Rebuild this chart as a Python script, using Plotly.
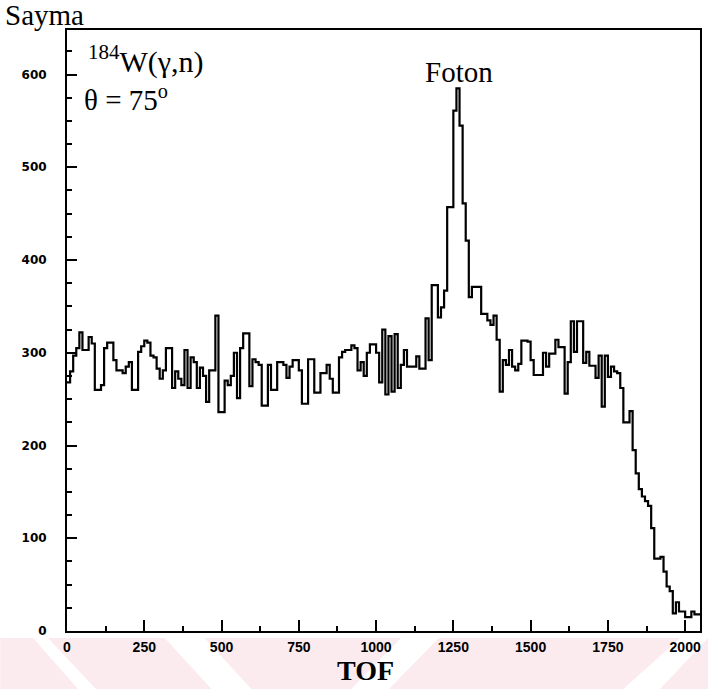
import numpy as np
import plotly.graph_objects as go

# ---- data (counts per 10-unit TOF bin) ----
bin_width = 10
counts = [
    268, 280, 297, 305, 322, 303, 303, 317, 310, 260,
    260, 265, 305, 311, 311, 292, 281, 281, 278, 285,
    290, 260, 260, 301, 307, 313, 311, 297, 295, 283,
    272, 281, 305, 305, 262, 280, 272, 265, 303, 262,
    295, 290, 262, 284, 275, 247, 281, 281, 340, 236,
    236, 270, 265, 275, 300, 251, 305, 321, 321, 264,
    293, 290, 287, 243, 243, 287, 260, 260, 290, 290,
    287, 273, 285, 292, 292, 281, 245, 245, 293, 293,
    257, 257, 278, 278, 287, 272, 257, 257, 295, 301,
    303, 303, 308, 305, 281, 290, 275, 300, 309, 309,
    300, 268, 325, 255, 318, 258, 320, 262, 287, 303,
    285, 285, 285, 296, 283, 283, 337, 292, 373, 373,
    338, 349, 367, 457, 457, 561, 585, 545, 461, 421,
    360, 371, 371, 371, 342, 342, 335, 330, 340, 314,
    258, 292, 287, 303, 285, 281, 288, 313, 313, 312,
    292, 276, 276, 276, 300, 285, 299, 299, 314, 306,
    306, 256, 290, 334, 301, 334, 334, 289, 301, 286,
    286, 273, 297, 242, 297, 274, 285, 280, 278, 262,
    225, 225, 237, 195, 170, 153, 145, 140, 135, 111,
    78, 78, 80, 64, 48, 43, 19, 31, 21, 21,
    15, 15, 21, 18, 18,
]
x_ticks = [0, 250, 500, 750, 1000, 1250, 1500, 1750, 2000]
y_ticks = [0, 100, 200, 300, 400, 500, 600]

edges = np.arange(len(counts) + 1) * bin_width
xs = list(edges)
ys = list(counts) + [counts[-1]]

W, H = 710, 689
L, R, T, B = 67, 8, 30, 58
PW, PH = W - L - R, H - T - B


def px(xp):
    return (xp - L) / PW


def py(yp):
    return (H - B - yp) / PH


fig = go.Figure()
fig.add_trace(go.Scatter(
    x=xs, y=ys, mode="lines", line=dict(shape="hv", color="black", width=2.2),
    hoverinfo="skip", showlegend=False,
))

serif = "Liberation Serif"

fig.update_layout(
    width=W, height=H,
    margin=dict(l=L, r=R, t=T, b=B, pad=0),
    paper_bgcolor="white", plot_bgcolor="white",
    xaxis=dict(
        range=[0, 2048], tickvals=x_ticks, ticktext=[str(v) for v in x_ticks],
        ticks="inside", ticklen=11, tickwidth=1.5, tickcolor="black",
        minor=dict(ticks="inside", ticklen=5, tickwidth=1.5, tickcolor="black", dtick=125, tick0=0),
        showline=True, linecolor="black", linewidth=2, mirror=True,
        showgrid=False, zeroline=False,
        tickfont=dict(family="Liberation Sans", size=14, color="black", weight="bold"),
        ticklabelstandoff=2,
    ),
    yaxis=dict(
        range=[0, 648], tickvals=y_ticks, ticktext=[str(v) for v in y_ticks],
        ticks="inside", ticklen=10, tickwidth=1.5, tickcolor="black",
        minor=dict(ticks="inside", ticklen=5, tickwidth=1.5, tickcolor="black", dtick=25, tick0=0),
        showline=True, linecolor="black", linewidth=2, mirror=True,
        showgrid=False, zeroline=False,
        tickfont=dict(family="DejaVu Sans", size=12, color="black", weight="bold"),
        ticklabelstandoff=16,
    ),
)

# faint pink watermark band along the bottom of the page (scan background)
pink = "#fcebee"
fig.add_shape(type="rect", xref="paper", yref="paper", layer="below",
              x0=px(0), x1=px(W), y0=py(H), y1=py(638),
              fillcolor=pink, line_width=0)


def band(xt0, xt1, xb0, xb1):
    yt, yb = py(638), py(H)
    return (f"M {px(xt0)} {yt} L {px(xt1)} {yt} "
            f"L {px(xb1)} {yb} L {px(xb0)} {yb} Z")


for xt0, xt1, xb0, xb1 in [(33, 48, 78, 96), (165, 205, 212, 252),
                           (402, 440, 352, 390), (682, 710, 625, 662)]:
    fig.add_shape(type="path", xref="paper", yref="paper", layer="below",
                  path=band(xt0, xt1, xb0, xb1), fillcolor="white", line_width=0)

ann = [
    dict(text="Sayma", x=px(3), y=py(15), xanchor="left", yanchor="middle",
         font=dict(family=serif, size=29, color="black")),
    dict(text="<b>TOF</b>", x=px(366), y=py(670), xanchor="center", yanchor="middle",
         font=dict(family=serif, size=28, color="black")),
    dict(text="<sup>184</sup>W(γ,n)", x=px(86), y=py(60), xanchor="left", yanchor="middle",
         font=dict(family=serif, size=30, color="black")),
    dict(text="θ = 75<sup>o</sup>", x=px(82), y=py(98), xanchor="left", yanchor="middle",
         font=dict(family=serif, size=29, color="black")),
    dict(text="Foton", x=px(460), y=py(72), xanchor="center", yanchor="middle",
         font=dict(family=serif, size=29, color="black")),
]
for a in ann:
    a.update(xref="paper", yref="paper", showarrow=False)
    fig.add_annotation(**a)

fig.write_html("out.html")
